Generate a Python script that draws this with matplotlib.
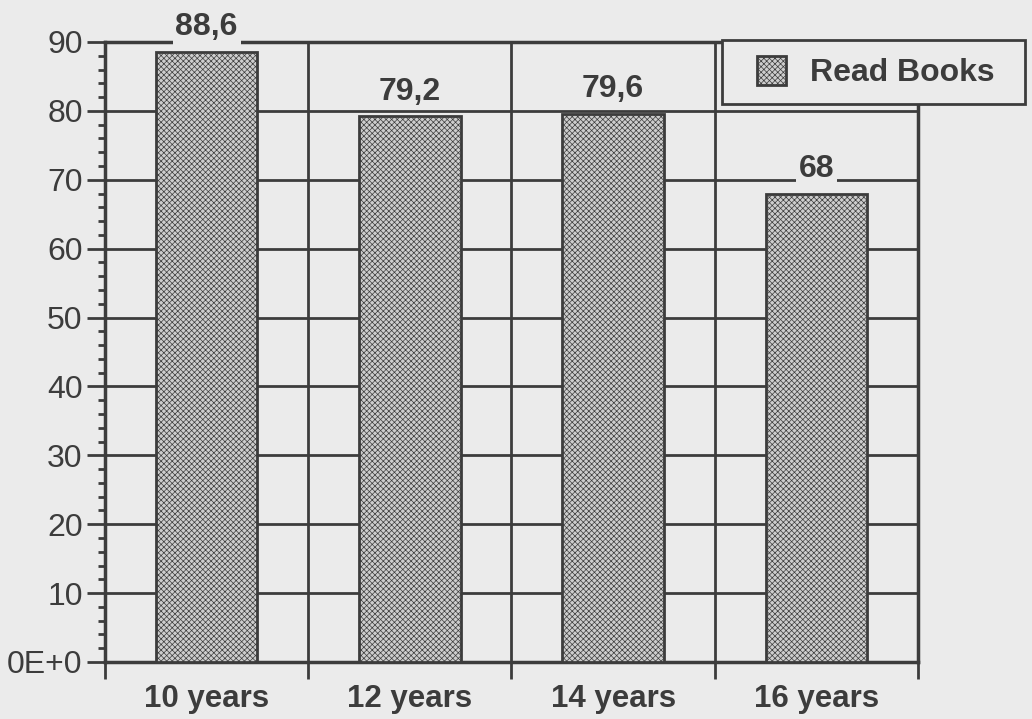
import matplotlib
matplotlib.use('Agg')
from matplotlib import pyplot as plt
from matplotlib.ticker import MultipleLocator, FixedLocator
from matplotlib.patches import Rectangle
from matplotlib.legend_handler import HandlerPatch

categories = ['10 years', '12 years', '14 years', '16 years']
read_books = [88.6, 79.2, 79.6, 68]
value_labels = ['88,6', '79,2', '79,6', '68']
y_ticks = [0, 10, 20, 30, 40, 50, 60, 70, 80, 90]
y_tick_labels = ['0E+0', '10', '20', '30', '40', '50', '60', '70', '80', '90']

bg = '#ebebeb'
ink = '#3c3c3c'

plt.rcParams['font.family'] = ['Liberation Sans', 'DejaVu Sans']
plt.rcParams['hatch.linewidth'] = 0.5
plt.rcParams['hatch.color'] = '#808080'

fig = plt.figure(figsize=(10.32, 7.19), dpi=100, facecolor=bg)
ax = fig.add_axes([0.1017, 0.0793, 0.7878, 0.8623], facecolor=bg)

x = list(range(len(categories)))
bars = ax.bar(x, read_books, width=0.5, color='#cdcdcd', edgecolor=ink,
              linewidth=2, hatch='xxxxxx', zorder=3, label='Read Books')

for xi, v, lab in zip(x, read_books, value_labels):
    ax.annotate(lab, (xi, v), xytext=(0, 7), textcoords='offset points',
                ha='center', va='bottom', fontsize=23, fontweight='bold',
                color=ink, zorder=5,
                bbox=dict(facecolor=bg, edgecolor='none', pad=2))

ax.set_xlim(-0.5, len(categories) - 0.5)
ax.set_ylim(0, 90)

# grid: horizontal at every 10, vertical at category boundaries
ax.set_yticks(y_ticks)
ax.set_yticklabels(y_tick_labels)
ax.yaxis.set_minor_locator(MultipleLocator(2))
ax.set_xticks(x)
ax.set_xticklabels(categories, fontweight='bold')
ax.xaxis.set_minor_locator(FixedLocator([i - 0.5 for i in range(len(categories) + 1)]))

ax.grid(True, axis='y', which='major', color=ink, linewidth=2, zorder=1)
ax.grid(True, axis='x', which='minor', color=ink, linewidth=2, zorder=1)
ax.set_axisbelow(True)

for s in ax.spines.values():
    s.set_color(ink)
    s.set_linewidth(2.5)

ax.tick_params(axis='y', which='major', length=13, width=2, color=ink,
               labelcolor=ink, labelsize=23, pad=3)
ax.tick_params(axis='y', which='minor', length=5, width=2, color=ink)
ax.tick_params(axis='x', which='major', length=0, labelcolor=ink,
               labelsize=22.5, pad=16)
ax.tick_params(axis='x', which='minor', length=12, width=2, color=ink)


def square_handle(legend, orig_handle, xdescent, ydescent, width, height, fontsize):
    s = height
    return Rectangle((-xdescent + width - s, -ydescent), s, s)


leg = fig.legend(handles=[bars.patches[0]], labels=['Read Books'], loc='upper left',
                 bbox_to_anchor=(0.70, 0.945, 0.293, 0.0), mode='expand',
                 prop={'size': 23, 'weight': 'bold'}, labelcolor=ink,
                 fancybox=False, framealpha=1, facecolor=bg, edgecolor=ink,
                 borderpad=0.5, handlelength=1.5, handleheight=1.05,
                 handletextpad=0.75, borderaxespad=0,
                 handler_map={Rectangle: HandlerPatch(patch_func=square_handle)})
leg.get_frame().set_linewidth(2)

fig.savefig('out.png', dpi=100, facecolor=bg)
